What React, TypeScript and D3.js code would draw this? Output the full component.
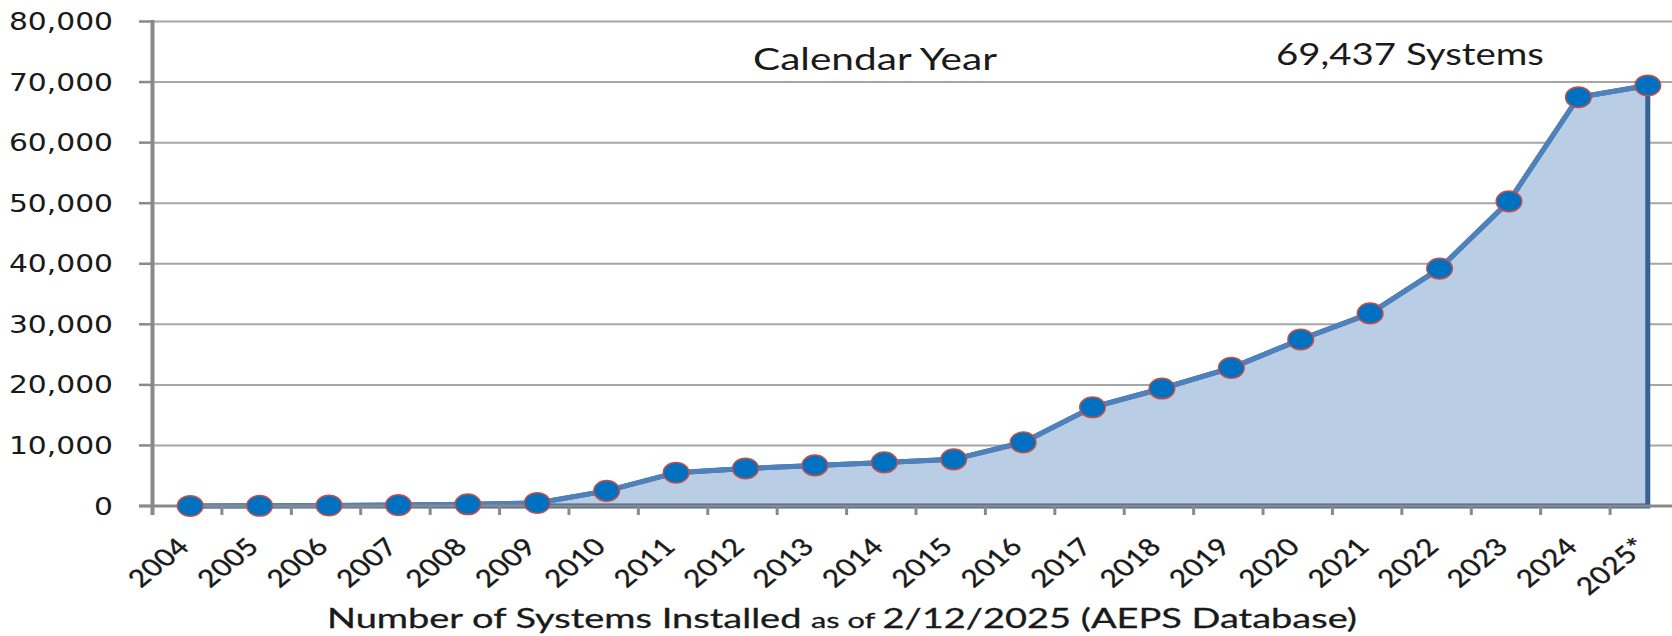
import React, { useRef, useEffect } from "react";
import * as d3 from "d3";

// values
const years = [
  "2004", "2005", "2006", "2007", "2008", "2009", "2010", "2011",
  "2012", "2013", "2014", "2015", "2016", "2017", "2018", "2019",
  "2020", "2021", "2022", "2023", "2024", "2025*",
];
const systems = [
  10, 30, 90, 150, 280, 500, 2500, 5500, 6200, 6700, 7200, 7700,
  10500, 16300, 19400, 22800, 27500, 31800, 39200, 50300, 67500, 69437,
];
const yTicks = [0, 10000, 20000, 30000, 40000, 50000, 60000, 70000, 80000];
const notes = ["Calendar Year", "69,437 Systems"];
const xTitleParts = ["Number of Systems Installed ", "as of ", "2/12/2025  (AEPS Database)"];

const InstalledChart: React.FC = () => {
  const ref = useRef<SVGSVGElement | null>(null);

  useEffect(() => {
    const svg = d3.select(ref.current);
    svg.selectAll("*").remove();

    const width = 1672;
    const axisX = 152.5;
    const data = years.map((year, i) => ({ year, value: systems[i] }));

    const x = d3.scaleBand<string>().domain(years).range([axisX, 1679.5]);
    const y = d3.scaleLinear().domain([0, 80000]).range([506, 21.5]);
    const cx = (d: any) => (x(d.year) as number) + x.bandwidth() / 2 + 3;

    // gridlines
    svg.selectAll("line.grid")
      .data(yTicks.filter((t) => t > 0))
      .enter()
      .append("line")
      .attr("x1", axisX)
      .attr("x2", width)
      .attr("y1", (d) => y(d))
      .attr("y2", (d) => y(d))
      .attr("stroke", "#a6a6a6")
      .attr("stroke-width", 2);

    // area + outline
    const area = d3.area<any>().x(cx).y0(y(0)).y1((d: any) => y(d.value));
    svg.append("path")
      .datum(data)
      .attr("d", area as any)
      .attr("fill", "#b9cde5")
      .attr("stroke", "#3a6195")
      .attr("stroke-width", 5);

    const line = d3.line<any>().x(cx).y((d: any) => y(d.value));
    svg.append("path")
      .datum(data)
      .attr("d", line as any)
      .attr("fill", "none")
      .attr("stroke", "#4f81bd")
      .attr("stroke-width", 5)
      .attr("stroke-linejoin", "round");

    // y axis
    svg.append("line")
      .attr("x1", axisX).attr("x2", axisX)
      .attr("y1", y(80000) - 1.5).attr("y2", 515)
      .attr("stroke", "#898989").attr("stroke-width", 4);
    svg.selectAll("line.ytick")
      .data(yTicks)
      .enter()
      .append("line")
      .attr("x1", 139).attr("x2", axisX)
      .attr("y1", (d) => y(d)).attr("y2", (d) => y(d))
      .attr("stroke", "#898989").attr("stroke-width", 2.5);

    // x axis
    svg.append("line")
      .attr("x1", 139).attr("x2", width)
      .attr("y1", y(0)).attr("y2", y(0))
      .attr("stroke", "#898989").attr("stroke-width", 3);
    svg.selectAll("line.xtick")
      .data(years)
      .enter()
      .append("line")
      .attr("x1", (d) => x(d) as number).attr("x2", (d) => x(d) as number)
      .attr("y1", y(0)).attr("y2", 515)
      .attr("stroke", "#898989").attr("stroke-width", 3);

    // markers
    svg.selectAll("ellipse")
      .data(data)
      .enter()
      .append("ellipse")
      .attr("cx", cx)
      .attr("cy", (d) => y(d.value))
      .attr("rx", 12.8)
      .attr("ry", 10.3)
      .attr("fill", "#0070c0")
      .attr("stroke", "#c0504d")
      .attr("stroke-width", 1.5);

    // y labels
    svg.selectAll("text.ylab")
      .data(yTicks)
      .enter()
      .append("text")
      .attr("transform", (d) => `translate(113, ${y(d) + 8.5}) scale(1.24, 1)`)
      .attr("text-anchor", "end")
      .style("font-family", "'DejaVu Sans', Verdana, sans-serif")
      .style("font-size", "24px")
      .attr("fill", "#1a1a1a")
      .text((d) => d3.format(",")(d));

    // x labels (45deg, then stretched like the source image)
    svg.selectAll("text.xlab")
      .data(data)
      .enter()
      .append("text")
      .attr("transform", (d) => `translate(${cx(d) + 1}, 548) scale(1.24, 1) rotate(-45)`)
      .attr("text-anchor", "end")
      .style("font-family", "Lato, sans-serif")
      .style("font-size", "24px")
      .style("letter-spacing", "0.5px")
      .attr("fill", "#1a1a1a")
      .attr("stroke", "#1a1a1a")
      .attr("stroke-width", 0.4)
      .text((d) => d.year);

    // notes inside the plot
    const noteBox = [
      { x: 753, y: 70, len: 244 },
      { x: 1276, y: 65, len: 268 },
    ];
    notes.forEach((n, i) => {
      svg.append("text")
        .attr("x", noteBox[i].x)
        .attr("y", noteBox[i].y)
        .attr("textLength", noteBox[i].len)
        .attr("lengthAdjust", "spacingAndGlyphs")
        .style("font-family", "Lato, sans-serif")
        .style("font-size", "30px")
        .attr("fill", "#1a1a1a")
        .text(n);
    });

    // x axis title
    const title = svg.append("text")
      .attr("x", 327)
      .attr("y", 628)
      .attr("textLength", 1030)
      .attr("lengthAdjust", "spacingAndGlyphs")
      .style("font-family", "Lato, sans-serif")
      .style("font-size", "26px")
      .attr("fill", "#1a1a1a")
      .attr("stroke", "#1a1a1a")
      .attr("stroke-width", 0.3);
    xTitleParts.forEach((p, i) => {
      title.append("tspan")
        .style("font-size", i === 1 ? "21px" : "26px")
        .text(p);
    });
  }, []);

  return (
    <svg
      ref={ref}
      width={1672}
      height={636}
      style={{ position: "absolute", left: 0, top: 0, background: "#fff" }}
    />
  );
};

export default function App() {
  return <InstalledChart />;
}
